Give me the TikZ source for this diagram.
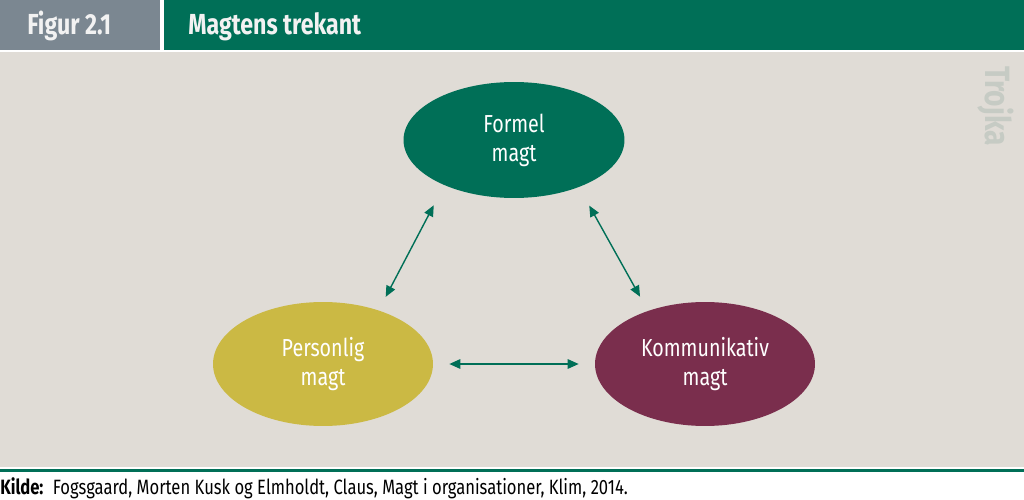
\documentclass[tikz,border=0pt]{standalone}
\usepackage{fontspec}
\setmainfont[FakeStretch=0.8]{Fira Sans}
\usetikzlibrary{shapes.geometric, arrows.meta}

\definecolor{trojgreen}{HTML}{006F57}
\definecolor{figgrey}{HTML}{7B8791}
\definecolor{beige}{HTML}{E0DCD6}
\definecolor{persyellow}{HTML}{CBB944}
\definecolor{kommpurple}{HTML}{7A2E4D}
\definecolor{trojkagrey}{HTML}{C6CBC4}
\definecolor{headtext}{HTML}{F2F2F2}

\begin{document}
\begin{tikzpicture}[x=0.02cm, y=-0.02cm,
    magt/.style={ellipse, inner sep=0pt, text=white, align=center,
        font=\fontsize{14}{16.5}\selectfont},
    head/.style={anchor=base west, inner sep=0pt, text=headtext,
        font=\bfseries\fontsize{16.5}{19}\selectfont},
    link/.style={draw=trojgreen, line width=0.8pt,
        >={Triangle[length=0.22cm, width=0.19cm]}, <->}]
    \useasboundingbox (0,0) rectangle (1024,500);

    % Background and header bars
    \fill[beige] (0,52) rectangle (1024,467);
    \fill[trojgreen] (0,469) rectangle (1024,472);
    \fill[figgrey] (0,0) rectangle (160,50);
    \fill[trojgreen] (164,0) rectangle (1024,50);
    \node[head] (figur) at (27,35) {Figur 2.1};
    \node[head] (titel) at (188,35) {Magtens trekant};
    \node[rotate=-90, text=trojkagrey, font=\bfseries\fontsize{20}{24}\selectfont]
        (trojka) at (996,106) {Trojka};

    % The three kinds of power
    \node[magt, fill=trojgreen, minimum width=4.42cm, minimum height=2.32cm]
        (formel) at (514,140) {Formel\\magt};
    \node[magt, fill=persyellow, minimum width=4.4cm, minimum height=2.48cm]
        (personlig) at (323,364) {Personlig\\magt};
    \node[magt, fill=kommpurple, minimum width=4.4cm, minimum height=2.48cm]
        (kommunikativ) at (705,364) {Kommunikativ\\magt};

    % Arrows between them
    \draw[link, shorten <=0.45cm, shorten >=0.3cm] (formel.213) -- (personlig.44);
    \draw[link, shorten <=0.42cm, shorten >=0.32cm] (formel.324) -- (kommunikativ.137);
    \draw[link, shorten <=0.32cm, shorten >=0.32cm] (personlig) -- (kommunikativ);

    % Source line
    \node[anchor=base west, inner sep=0pt, font=\fontsize{11.8}{14}\selectfont]
        (kilde) at (0,494) {\textbf{Kilde:}\hspace{0.45em}Fogsgaard, Morten Kusk og Elmholdt, Claus, Magt i organisationer, Klim, 2014.};
\end{tikzpicture}
\end{document}
